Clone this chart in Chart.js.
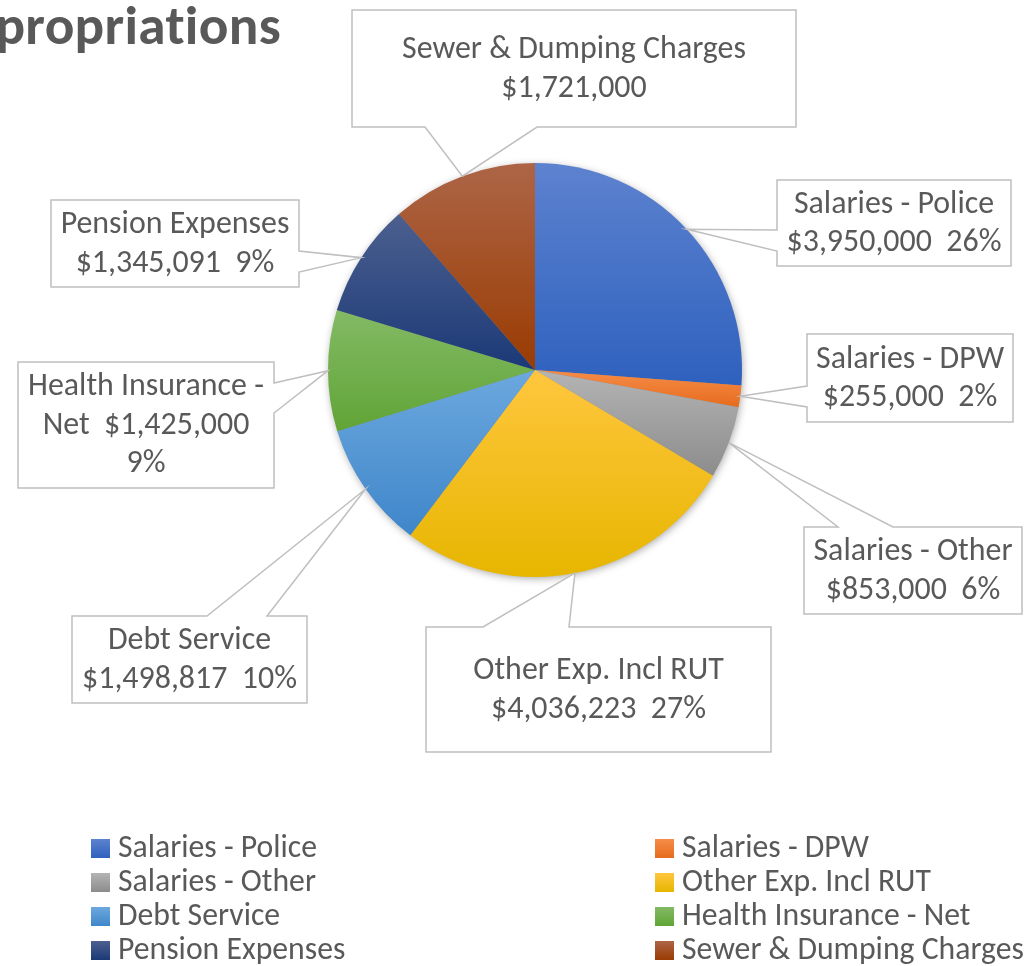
<!DOCTYPE html>
<html>
<head>
<meta charset="utf-8">
<script src="https://cdn.jsdelivr.net/npm/chart.js@4.4.1/dist/chart.umd.min.js"></script>
<style>
  html, body { margin: 0; padding: 0; background: #fff; overflow: hidden; }
  #wrap { position: relative; width: 1028px; height: 966px; }
</style>
</head>
<body>
<div id="wrap"><canvas id="pie" width="1028" height="966"></canvas></div>
<script>
// data
const categories = [
  'Salaries - Police', 'Salaries - DPW', 'Salaries - Other', 'Other Exp. Incl RUT',
  'Debt Service', 'Health Insurance - Net', 'Pension Expenses', 'Sewer & Dumping Charges'
];
const amounts = [3950000, 255000, 853000, 4036223, 1498817, 1425000, 1345091, 1721000];
const topColors    = ['#5d82cf', '#f68c48', '#b4b4b4', '#ffc63e', '#6ca8de', '#83ba65', '#4c608f', '#ad6547'];
const bottomColors = ['#2e61be', '#e66c1e', '#8c8c8c', '#e7b600', '#3f86ca', '#61a436', '#1b3977', '#9a3b02'];
const titleText = 'Appropriations';

// callout boxes (layout only): box, side the pointer leaves from, pointer base span
const callouts = [
  { x: 777, y: 180, w: 234, h: 86,  side: 'left',   b: [230, 251] },
  { x: 807, y: 334, w: 206, h: 88,  side: 'left',   b: [386, 407] },
  { x: 804, y: 527, w: 218, h: 87,  side: 'top',    b: [838, 893] },
  { x: 426, y: 627, w: 345, h: 125, side: 'top',    b: [483, 569] },
  { x: 72,  y: 616, w: 235, h: 87,  side: 'top',    b: [207, 267] },
  { x: 18,  y: 362, w: 256, h: 126, side: 'right',  b: [383, 413] },
  { x: 51,  y: 200, w: 248, h: 87,  side: 'right',  b: [251, 272] },
  { x: 352, y: 10,  w: 444, h: 117, side: 'bottom', b: [425, 537] }
];

const FONT = 'Carlito, Calibri, Lato, "Open Sans", sans-serif';
const TEXT_COLOR = '#595959';
const LINE_COLOR = '#bfbfbf';
const total = amounts.reduce((a, b) => a + b, 0);

function money(v) { return '$' + v.toLocaleString('en-US'); }
function pct(v) { return Math.round(v / total * 100) + '%'; }

function calloutLines(i) {
  const v = amounts[i];
  if (i === 7) return [categories[i], money(v)];
  if (i === 5) return ['Health Insurance -', 'Net  ' + money(v), pct(v)];
  return [categories[i], money(v) + '  ' + pct(v)];
}

function fitSize(ctx, text, target, weight) {
  ctx.font = `${weight} 100px ${FONT}`;
  return 100 * target / ctx.measureText(text).width;
}

// vertical gradient over each slice's own extent
function sliceFill(context) {
  const i = context.dataIndex;
  const chart = context.chart;
  const area = chart.chartArea;
  if (i === undefined) return bottomColors[0];
  if (!area) return bottomColors[i];
  const cx = (area.left + area.right) / 2;
  const cy = (area.top + area.bottom) / 2;
  const r = Math.min(area.right - area.left, area.bottom - area.top) / 2;
  let a0 = 0;
  for (let j = 0; j < i; j++) a0 += amounts[j] / total * Math.PI * 2;
  const a1 = a0 + amounts[i] / total * Math.PI * 2;
  const ys = [cy, cy - r * Math.cos(a0), cy - r * Math.cos(a1)];
  if (a0 <= 1e-6 || a1 >= Math.PI * 2 - 1e-6) ys.push(cy - r);
  if (a0 <= Math.PI && a1 >= Math.PI) ys.push(cy + r);
  const g = chart.ctx.createLinearGradient(0, Math.min(...ys), 0, Math.max(...ys));
  g.addColorStop(0, topColors[i]);
  g.addColorStop(1, bottomColors[i]);
  return g;
}

const pieShadow = {
  id: 'pieShadow',
  beforeDatasetsDraw(chart) {
    const arc = chart.getDatasetMeta(0).data[0];
    if (!arc) return;
    const ctx = chart.ctx;
    ctx.save();
    ctx.shadowColor = 'rgba(0,0,0,0.38)';
    ctx.shadowBlur = 9;
    ctx.shadowOffsetX = 1;
    ctx.shadowOffsetY = 2;
    ctx.fillStyle = '#888';
    ctx.beginPath();
    ctx.arc(arc.x, arc.y, arc.outerRadius - 1, 0, Math.PI * 2);
    ctx.fill();
    ctx.restore();
  }
};

const calloutPlugin = {
  id: 'callouts',
  afterDatasetsDraw(chart) {
    const ctx = chart.ctx;
    const size = fitSize(ctx, 'Sewer & Dumping Charges', 344, 'normal');
    const lineH = 38.5;
    chart.getDatasetMeta(0).data.forEach((arc, i) => {
      const c = callouts[i];
      const mid = (arc.startAngle + arc.endAngle) / 2;
      const tx = arc.x + arc.outerRadius * Math.cos(mid);
      const ty = arc.y + arc.outerRadius * Math.sin(mid);
      const L = c.x, T = c.y, R = c.x + c.w, B = c.y + c.h;
      const pts = [[L, T]];
      if (c.side === 'top') pts.push([c.b[0], T], [tx, ty], [c.b[1], T]);
      pts.push([R, T]);
      if (c.side === 'right') pts.push([R, c.b[0]], [tx, ty], [R, c.b[1]]);
      pts.push([R, B]);
      if (c.side === 'bottom') pts.push([c.b[1], B], [tx, ty], [c.b[0], B]);
      pts.push([L, B]);
      if (c.side === 'left') pts.push([L, c.b[1]], [tx, ty], [L, c.b[0]]);

      ctx.save();
      ctx.beginPath();
      pts.forEach((p, k) => k ? ctx.lineTo(p[0], p[1]) : ctx.moveTo(p[0], p[1]));
      ctx.closePath();
      ctx.fillStyle = '#ffffff';
      ctx.fill();
      ctx.strokeStyle = LINE_COLOR;
      ctx.lineWidth = 1.5;
      ctx.lineJoin = 'miter';
      ctx.stroke();

      const lines = calloutLines(i);
      ctx.font = `${size}px ${FONT}`;
      ctx.fillStyle = TEXT_COLOR;
      ctx.textAlign = 'center';
      ctx.textBaseline = 'middle';
      const cxText = L + c.w / 2;
      const cyText = T + c.h / 2 + 1;
      lines.forEach((t, k) => {
        ctx.fillText(t, cxText, cyText + (k - (lines.length - 1) / 2) * lineH);
      });
      ctx.restore();
    });
  }
};

const legendAndTitle = {
  id: 'legendAndTitle',
  afterDraw(chart) {
    const ctx = chart.ctx;
    const size = fitSize(ctx, 'Sewer & Dumping Charges', 342, 'normal');
    ctx.save();
    // legend, two columns
    categories.forEach((name, i) => {
      const col = i % 2, row = Math.floor(i / 2);
      const mx = col ? 655 : 91;
      const my = 839 + row * 34;
      const g = ctx.createLinearGradient(0, my, 0, my + 19);
      g.addColorStop(0, topColors[i]);
      g.addColorStop(1, bottomColors[i]);
      ctx.fillStyle = g;
      ctx.fillRect(mx, my, 19, 19);
      ctx.font = `${size}px ${FONT}`;
      ctx.fillStyle = TEXT_COLOR;
      ctx.textAlign = 'left';
      ctx.textBaseline = 'middle';
      ctx.fillText(name, col ? 682 : 118, my + 10);
    });
    // title, clipped at left edge (no ligatures, like the original)
    if ('letterSpacing' in ctx) ctx.letterSpacing = '0.3px';
    const tSize = fitSize(ctx, 'propriations', 284, 'bold');
    ctx.font = `bold ${tSize}px ${FONT}`;
    ctx.fillStyle = TEXT_COLOR;
    ctx.textAlign = 'right';
    ctx.textBaseline = 'alphabetic';
    ctx.fillText(titleText, 281, 44);
    ctx.restore();
  }
};

new Chart(document.getElementById('pie'), {
  type: 'pie',
  data: {
    labels: categories,
    datasets: [{
      data: amounts,
      backgroundColor: sliceFill,
      borderWidth: 0
    }]
  },
  options: {
    responsive: false,
    animation: false,
    layout: { padding: { left: 328, right: 286, top: 163, bottom: 389 } },
    plugins: {
      legend: { display: false },
      tooltip: { enabled: false },
      title: { display: false }
    }
  },
  plugins: [pieShadow, calloutPlugin, legendAndTitle]
});
</script>
</body>
</html>
